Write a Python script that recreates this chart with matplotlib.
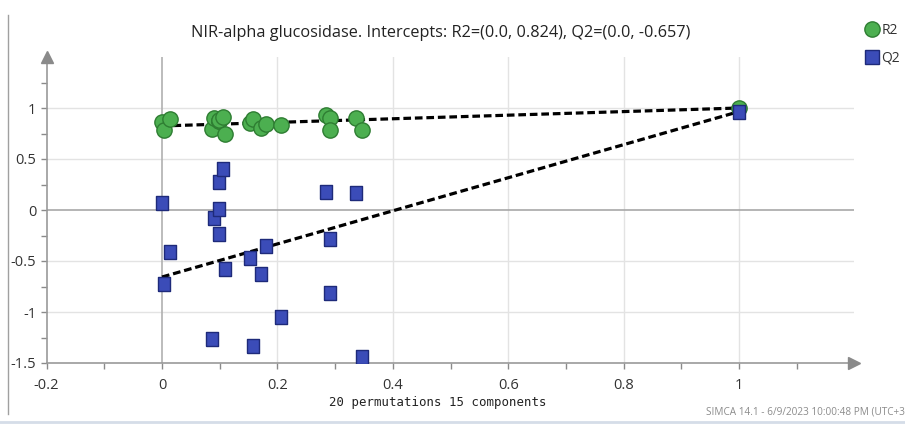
import matplotlib
matplotlib.use('Agg')
import matplotlib.pyplot as plt
from matplotlib.lines import Line2D
import numpy as np

# Корреляция перестановок (ось X) и значения R2 / Q2
perm_corr = [0.0, 0.003, 0.014, 0.086, 0.09, 0.098, 0.098, 0.099, 0.105, 0.11,
             0.152, 0.158, 0.172, 0.181, 0.206, 0.284, 0.291, 0.291, 0.336, 0.346, 1.0]
r2_vals = [0.86, 0.78, 0.89, 0.79, 0.90, 0.87, 0.87, 0.88, 0.915, 0.745,
           0.85, 0.89, 0.80, 0.84, 0.83, 0.93, 0.90, 0.785, 0.90, 0.785, 1.0]
q2_vals = [0.066, -0.725, -0.415, -1.26, -0.08, 0.007, -0.235, 0.27, 0.40, -0.58,
           -0.47, -1.33, -0.63, -0.35, -1.045, 0.18, -0.28, -0.81, 0.17, -1.44, 0.965]

r2_intercept = 0.824
q2_intercept = -0.657

title = 'NIR-alpha glucosidase. Intercepts: R2=(0.0, 0.824), Q2=(0.0, -0.657)'
xlabel = '20 permutations 15 components'
footer = 'SIMCA 14.1 - 6/9/2023 10:00:48 PM (UTC+3'

plt.rcParams['font.family'] = ['Open Sans', 'DejaVu Sans']

fig = plt.figure(figsize=(9.05, 4.29), dpi=100)
ax = fig.add_axes([46.6 / 905, 66 / 429, 807.8 / 905, 306 / 429])
ax.set_xlim(-0.2, 1.2)
ax.set_ylim(-1.5, 1.5)

# сетка
for y in [-1, -0.5, 0.5, 1]:
    ax.axhline(y, color='#e3e3e3', lw=1, zorder=0)
for x in [0.2, 0.4, 0.6, 0.8, 1.0]:
    ax.axvline(x, color='#e3e3e3', lw=1, zorder=0)
ax.axhline(0, color='#a8a8a8', lw=1.2, zorder=0)
ax.axvline(0, color='#b0b0b0', lw=1.2, zorder=0)

# линии пересечения
ax.plot([0, perm_corr[-1]], [r2_intercept, r2_vals[-1]], color='black', lw=2.3,
        linestyle=(0, (2.4, 1.2)), zorder=2)
ax.plot([0, perm_corr[-1]], [q2_intercept, q2_vals[-1]], color='black', lw=2.3,
        linestyle=(0, (2.4, 1.2)), zorder=2)

rect = [(-0.43, -0.5), (0.43, -0.5), (0.43, 0.5), (-0.43, 0.5), (-0.43, -0.5)]
ax.plot(perm_corr, r2_vals, 'o', ms=11, mfc='#4caf50', mec='#2e7d32', mew=1, zorder=3)
ax.plot(perm_corr, q2_vals, linestyle='none', marker=rect, ms=10.5, mfc='#3b4cb8',
        mec='#1e2a7a', mew=1, zorder=4)

# оси со стрелками
for s in ['top', 'right']:
    ax.spines[s].set_visible(False)
ax.spines['left'].set_color('#9a9a9a')
ax.spines['bottom'].set_color('#9a9a9a')
ax.spines['left'].set_linewidth(1.2)
ax.spines['bottom'].set_linewidth(1.2)
ax.plot(-0.2, 1.5, marker='^', ms=9, color='#8a8a8a', clip_on=False, zorder=5)
ax.plot(1.2, -1.5, marker='>', ms=9, color='#8a8a8a', clip_on=False, zorder=5)

ax.set_xticks(np.arange(-0.2, 1.01, 0.2))
ax.set_xticklabels(['-0.2', '0', '0.2', '0.4', '0.6', '0.8', '1'])
ax.set_xticks(np.arange(-0.1, 1.11, 0.2), minor=True)
ax.set_yticks([-1.5, -1, -0.5, 0, 0.5, 1])
ax.set_yticklabels(['-1.5', '-1', '-0.5', '0', '0.5', '1'])
ax.set_yticks([-1.25, -0.75, -0.25, 0.25, 0.75, 1.25], minor=True)
ax.tick_params(which='both', color='#8a8a8a', length=4, width=1, labelsize=10.5,
               labelcolor='#333333')
ax.tick_params(axis='x', pad=7)

ax.set_xlabel(xlabel, family='DejaVu Sans Mono', fontsize=8.9, color='#222222')
ax.xaxis.set_label_coords(0.4845, -0.108)

fig.text(0.487, 0.922, title, ha='center', va='center', fontsize=11.7, color='#222222')

leg_handles = [
    Line2D([], [], linestyle='none', marker='o', ms=11, mfc='#4caf50', mec='#2e7d32'),
    Line2D([], [], linestyle='none', marker='s', ms=9.5, mfc='#3b4cb8', mec='#1e2a7a'),
]
fig.legend(leg_handles, ['R2', 'Q2'], loc='upper left', bbox_to_anchor=(0.957, 0.947),
           frameon=False, fontsize=10, handlelength=0.8, handletextpad=0.3,
           labelspacing=0.95, borderpad=0, borderaxespad=0, labelcolor='#333333')

fig.text(0.9995, 0.040, footer, ha='right', va='center', fontsize=7.2, color='#8c8c8c')

# рамка окна
fig.add_artist(Line2D([8 / 905, 8 / 905], [15 / 429, 1 - 15 / 429], color='#a0a0a0', lw=1))
fig.add_artist(Line2D([0, 1], [7 / 429, 7 / 429], color='#d5dde8', lw=2))

fig.savefig('out.png', dpi=100)
